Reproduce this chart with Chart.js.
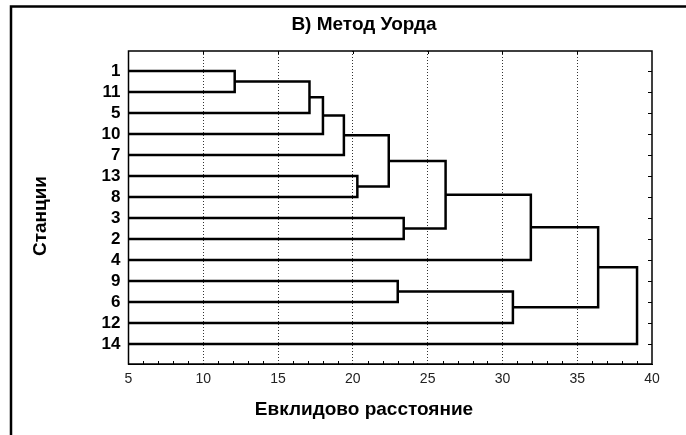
<!DOCTYPE html>
<html>
<head>
<meta charset="utf-8">
<script src="https://cdn.jsdelivr.net/npm/chart.js@4"></script>
<style>
  body { margin: 0; background: #fff; }
  #wrap { width: 686px; height: 435px; position: relative; }
</style>
</head>
<body>
<div id="wrap"><canvas id="grafico"></canvas></div>
<script>
// станции в порядке сверху вниз
const stations = ['1', '11', '5', '10', '7', '13', '8', '3', '2', '4', '9', '6', '12', '14'];
// объединения: индексы узлов (0..13 - станции, 14+ - кластеры) и расстояние
const mergeLeft = [0, 14, 15, 16, 5, 17, 7, 19, 21, 10, 23, 22, 25];
const mergeRight = [1, 2, 3, 4, 6, 18, 8, 20, 9, 11, 12, 24, 13];
const mergeDist = [12.1, 17.1, 18.0, 19.4, 20.3, 22.4, 23.4, 26.2, 31.9, 23.0, 30.7, 36.4, 39.0];
const xTicks = [5, 10, 15, 20, 25, 30, 35, 40];

const titulo = 'В) Метод Уорда';
const tituloX = 'Евклидово расстояние';
const tituloY = 'Станции';

const FONT = "'Liberation Sans', Arial, sans-serif";
const xMin = xTicks[0], xMax = xTicks[xTicks.length - 1];

// Monta as linhas do dendrograma.
function montarLinhas() {
    const nodeY = stations.map((s, i) => i);
    const nodeH = stations.map(() => xMin);
    const sets = [];
    mergeDist.forEach((d, k) => {
        const a = mergeLeft[k], b = mergeRight[k];
        sets.push({
            data: [
                { x: nodeH[a], y: nodeY[a] },
                { x: d, y: nodeY[a] },
                { x: d, y: nodeY[b] },
                { x: nodeH[b], y: nodeY[b] }
            ],
            showLine: true,
            borderColor: '#000',
            borderWidth: 2.5,
            pointRadius: 0,
            tension: 0,
            fill: false
        });
        nodeY.push((nodeY[a] + nodeY[b]) / 2);
        nodeH.push(d);
    });
    return sets;
}

// Moldura, marcas e títulos.
const moldura = {
    id: 'moldura',
    afterDraw(chart) {
        const { ctx, chartArea: ca, scales } = chart;
        const sx = scales.x, sy = scales.y;
        ctx.save();
        ctx.strokeStyle = '#000';
        // quadro externo
        ctx.lineWidth = 2.5;
        ctx.beginPath();
        ctx.moveTo(11, 435);
        ctx.lineTo(11, 6.5);
        ctx.lineTo(690, 6.5);
        ctx.stroke();
        // quadro do gráfico
        ctx.lineWidth = 1.5;
        ctx.strokeRect(ca.left, ca.top, ca.right - ca.left, ca.bottom - ca.top);
        // marcas
        ctx.lineWidth = 1;
        ctx.beginPath();
        for (let v = xMin + 1; v < xMax; v++) {
            if (v % 5 === 0) continue;
            const px = Math.round(sx.getPixelForValue(v)) + 0.5;
            ctx.moveTo(px, ca.bottom);
            ctx.lineTo(px, ca.bottom - 3);
        }
        xTicks.slice(1, -1).forEach(v => {
            const px = Math.round(sx.getPixelForValue(v)) + 0.5;
            ctx.moveTo(px, ca.top);
            ctx.lineTo(px, ca.top + 3);
        });
        stations.forEach((s, i) => {
            const py = Math.round(sy.getPixelForValue(i)) + 0.5;
            ctx.moveTo(ca.right, py);
            ctx.lineTo(ca.right - 4, py);
        });
        ctx.stroke();
        // títulos
        ctx.fillStyle = '#000';
        ctx.textAlign = 'center';
        ctx.textBaseline = 'middle';
        ctx.font = 'bold 19px ' + FONT;
        ctx.fillText(titulo, 364, 25);
        ctx.fillText(tituloX, 364, 410);
        ctx.translate(41, 216);
        ctx.rotate(-Math.PI / 2);
        ctx.fillText(tituloY, 0, 0);
        ctx.restore();
    }
};

window.onload = function() {
    const ctx = document.getElementById('grafico').getContext('2d');
    new Chart(ctx, {
        type: 'scatter',
        data: { datasets: montarLinhas() },
        options: {
            responsive: true,
            maintainAspectRatio: false,
            animation: false,
            layout: { padding: { left: 0, right: 34, top: 51, bottom: 0 } },
            plugins: {
                legend: { display: false },
                tooltip: { enabled: false },
                title: { display: false }
            },
            scales: {
                x: {
                    type: 'linear',
                    min: xMin,
                    max: xMax,
                    afterBuildTicks: s => { s.ticks = xTicks.map(v => ({ value: v })); },
                    afterFit: s => { s.height = 71; },
                    ticks: {
                        color: '#222',
                        font: { family: FONT, size: 14 },
                        padding: 7,
                        maxRotation: 0
                    },
                    grid: {
                        drawTicks: false,
                        lineWidth: 1,
                        color: c => (c.tick && (c.tick.value === xMin || c.tick.value === xMax)) ? 'rgba(0,0,0,0)' : '#333'
                    },
                    border: { display: true, color: '#000', width: 1, dash: [1, 2] }
                },
                y: {
                    type: 'linear',
                    reverse: true,
                    min: -0.95,
                    max: 13.95,
                    afterBuildTicks: s => { s.ticks = stations.map((n, i) => ({ value: i })); },
                    afterFit: s => { s.width = 128.5; },
                    ticks: {
                        autoSkip: false,
                        color: '#000',
                        font: { family: FONT, size: 17, weight: 'bold' },
                        padding: 8,
                        callback: v => stations[v]
                    },
                    grid: { display: false, drawTicks: false },
                    border: { display: true, color: '#000', width: 1 }
                }
            }
        },
        plugins: [moldura]
    });
};
</script>
</body>
</html>
